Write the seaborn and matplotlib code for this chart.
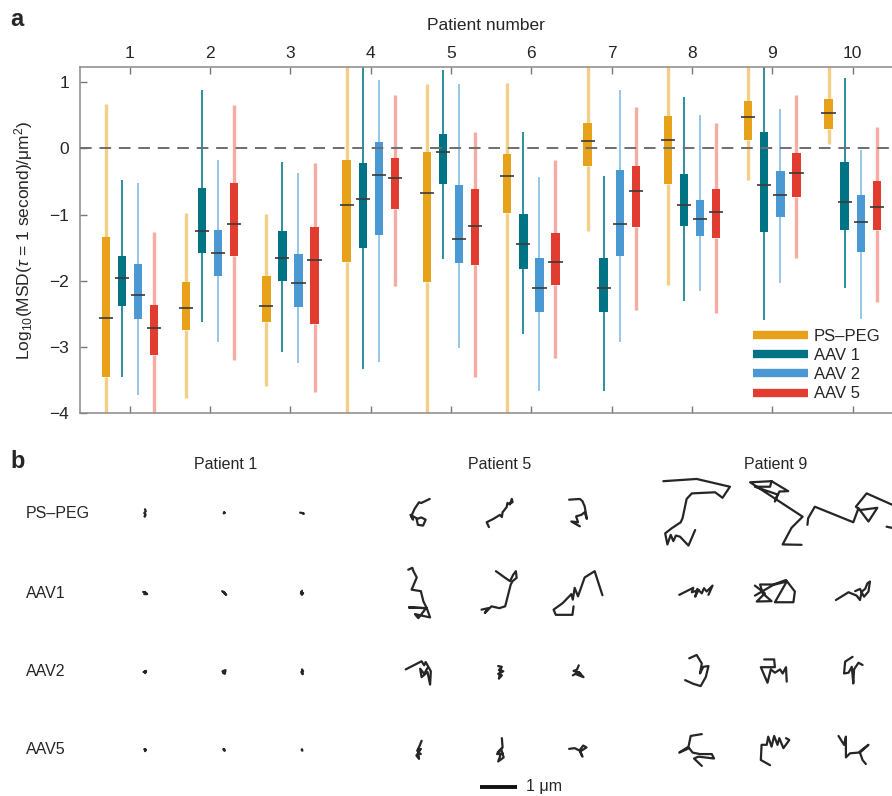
import numpy as np
import pandas as pd
import matplotlib
matplotlib.use("Agg")
import matplotlib.pyplot as plt
import seaborn as sns
from matplotlib.lines import Line2D

# ---------------- data: panel a ----------------
patients = [str(i) for i in range(1, 11)]
particles = ["PS–PEG", "AAV 1", "AAV 2", "AAV 5"]
# five-number summaries per patient: (whisker low, Q1, median, Q3, whisker high) of log10 MSD
ps_peg = [(-4.3, -3.45, -2.57, -1.34, 0.67), (-3.77, -2.75, -2.42, -2.02, -0.97),
          (-3.59, -2.62, -2.38, -1.93, -0.99), (-4.3, -1.72, -0.86, -0.18, 1.5),
          (-4.3, -2.02, -0.68, -0.05, 0.98), (-4.3, -0.97, -0.42, -0.09, 0.99),
          (-1.25, -0.27, 0.11, 0.39, 1.5), (-2.06, -0.54, 0.13, 0.49, 1.5),
          (-0.48, 0.13, 0.47, 0.72, 1.5), (0.07, 0.29, 0.53, 0.74, 1.5)]
aav1 = [(-3.45, -2.39, -1.96, -1.63, -0.48), (-2.63, -1.58, -1.25, -0.60, 0.88),
        (-3.08, -2.00, -1.65, -1.25, -0.21), (-3.34, -1.50, -0.76, -0.22, 1.5),
        (-1.67, -0.54, -0.06, 0.22, 1.18), (-2.81, -1.82, -1.45, -0.99, 0.24),
        (-3.66, -2.48, -2.11, -1.66, -0.42), (-2.30, -1.18, -0.85, -0.38, 0.78),
        (-2.59, -1.27, -0.55, 0.24, 1.5), (-2.11, -1.24, -0.81, -0.21, 1.07)]
aav2 = [(-3.73, -2.58, -2.22, -1.75, -0.53), (-2.93, -1.93, -1.58, -1.23, -0.17),
        (-3.25, -2.40, -2.03, -1.60, -0.37), (-3.23, -1.31, -0.40, 0.10, 1.03),
        (-3.01, -1.74, -1.37, -0.55, 0.98), (-3.66, -2.48, -2.11, -1.66, -0.44),
        (-2.92, -1.63, -1.14, -0.33, 0.88), (-2.15, -1.33, -1.07, -0.78, 0.50),
        (-2.04, -1.04, -0.70, -0.34, 0.60), (-2.58, -1.57, -1.11, -0.70, -0.03)]
aav5 = [(-4.3, -3.13, -2.71, -2.36, -1.27), (-3.20, -1.63, -1.14, -0.53, 0.66),
        (-3.68, -2.66, -1.69, -1.19, -0.22), (-2.08, -0.92, -0.45, -0.14, 0.81),
        (-3.46, -1.77, -1.18, -0.61, 0.25), (-3.17, -2.06, -1.71, -1.28, -0.17),
        (-2.44, -1.19, -0.65, -0.27, 0.63), (-2.49, -1.36, -0.96, -0.61, 0.39),
        (-1.65, -0.74, -0.37, -0.07, 0.81), (-2.32, -1.24, -0.89, -0.50, 0.32)]
y_ticks = [-4, -3, -2, -1, 0, 1]

# ---------------- data: panel b (trajectories, µm, relative to cell centre) ----------------
row_labels = ["PS–PEG", "AAV1", "AAV2", "AAV5"]
panel_patients = ["Patient 1", "Patient 5", "Patient 9"]

p1_pspeg = [[(0.0, 0.10), (0.02, 0.05), (-0.02, 0.0), (0.01, -0.03), (-0.01, -0.10), (0.01, -0.06)],
            [(0.0, 0.02), (0.02, 0.0), (-0.01, -0.01), (0.01, 0.01)],
            [(-0.05, 0.01), (0.0, 0.0), (0.05, -0.02), (0.02, 0.0)]]
p1_aav1 = [[(-0.05, 0.03), (0.03, 0.0), (-0.02, -0.03), (0.06, -0.03), (0.0, 0.02)],
           [(-0.05, 0.05), (0.02, 0.0), (-0.01, 0.03), (0.06, -0.05), (0.02, -0.02)],
           [(0.0, 0.06), (-0.03, -0.01), (0.03, 0.0), (0.0, -0.05), (-0.02, 0.02)]]
p1_aav2 = [[(-0.04, 0.0), (0.03, 0.02), (0.0, -0.03), (0.02, 0.03), (-0.01, 0.01)],
           [(-0.04, 0.02), (0.04, 0.05), (0.02, -0.05), (-0.03, -0.02), (0.03, 0.0)],
           [(0.0, 0.07), (0.03, 0.02), (-0.02, 0.0), (0.02, -0.06), (0.0, 0.02)]]
p1_aav5 = [[(-0.02, 0.02), (0.02, 0.0), (0.0, -0.03), (0.01, 0.02)],
           [(-0.02, 0.02), (0.02, -0.02), (0.0, 0.0), (0.01, 0.02)],
           [(0.0, 0.02), (0.01, -0.02), (-0.01, 0.0)]]

p5_pspeg = [[(0.29, 0.38), (0.06, 0.27), (0.0, 0.29), (-0.12, 0.11), (-0.21, -0.09), (-0.16, -0.18),
             (-0.23, -0.05), (-0.07, -0.14), (-0.03, -0.32), (0.11, -0.34), (0.18, -0.18), (0.06, -0.12),
             (-0.05, -0.16)],
            [(-0.30, -0.38), (-0.36, -0.25), (-0.18, -0.16), (0.0, -0.05), (0.05, -0.11), (0.07, 0.02),
             (0.18, 0.16), (0.20, 0.27), (0.27, 0.23), (0.32, 0.38), (0.34, 0.29), (0.27, 0.27)],
            [(-0.24, 0.36), (0.05, 0.38), (0.12, 0.32), (0.18, 0.18), (0.24, -0.16), (0.18, 0.02),
             (0.09, -0.05), (-0.05, -0.09), (0.0, -0.25), (-0.18, -0.23), (0.05, -0.36)]]
p5_aav1 = [[(-0.29, 0.63), (-0.18, 0.68), (-0.15, 0.59), (-0.06, 0.42), (-0.20, 0.09), (0.05, 0.05),
            (0.12, -0.23), (0.21, -0.41), (-0.27, -0.39), (0.21, -0.41), (0.30, -0.66), (-0.11, -0.57),
            (-0.02, -0.68), (0.16, -0.45)],
           [(-0.11, 0.59), (0.14, 0.41), (0.27, 0.32), (0.36, 0.50), (0.43, 0.59), (0.45, 0.41),
            (0.34, 0.32), (0.29, 0.23), (0.14, -0.36), (-0.02, -0.41), (-0.23, -0.36), (-0.41, -0.54),
            (-0.32, -0.41), (-0.50, -0.45)],
           [(0.66, -0.06), (0.45, 0.59), (0.18, 0.42), (0.0, -0.09), (-0.09, 0.14), (-0.14, -0.18),
            (-0.18, -0.03), (-0.41, -0.27), (-0.66, -0.45), (-0.60, -0.59), (-0.15, -0.59), (-0.12, -0.36)]]
p5_aav2 = [[(-0.36, 0.07), (0.07, 0.29), (0.14, 0.18), (0.18, 0.27), (0.32, 0.02), (0.30, -0.34),
            (0.23, 0.0), (0.07, -0.14), (0.03, 0.09), (0.14, -0.05), (0.23, 0.11)],
           [(-0.05, 0.16), (0.05, 0.14), (-0.03, 0.05), (0.09, 0.02), (-0.05, -0.05), (0.05, -0.09),
            (-0.03, -0.18), (0.03, 0.09)],
           [(0.02, 0.18), (-0.03, 0.06), (-0.12, 0.03), (0.06, -0.03), (-0.05, -0.06), (0.15, -0.14),
            (0.02, 0.0), (-0.14, -0.09)]]
p5_aav5 = [[(0.07, 0.25), (0.02, 0.12), (-0.05, -0.02), (0.05, 0.03), (-0.07, -0.15), (0.0, -0.24),
            (-0.02, -0.06), (0.05, -0.11)],
           [(0.05, 0.32), (0.07, 0.07), (-0.06, -0.06), (0.01, -0.15), (-0.05, -0.31), (0.10, -0.20),
            (0.03, 0.03), (-0.08, -0.11), (0.07, -0.09)],
           [(-0.24, 0.03), (-0.09, 0.05), (0.05, -0.02), (0.12, -0.18), (0.06, -0.04), (0.23, 0.07),
            (0.14, 0.12), (0.05, 0.0)]]

p9_pspeg = [[(-0.91, 0.86), (-0.01, 0.92), (0.89, 0.71), (0.69, 0.41), (0.49, 0.56), (-0.14, 0.53),
             (-0.28, 0.38), (-0.39, -0.14), (-0.44, -0.25), (-0.68, -0.41), (-0.86, -0.55), (-0.80, -0.85),
             (-0.71, -0.59), (-0.64, -0.76), (-0.57, -0.61), (-0.46, -0.64), (-0.23, -0.88), (-0.05, -0.46)],
            [(0.69, -0.86), (0.18, -0.85), (0.42, -0.40), (0.72, -0.10), (-0.70, 0.83), (-0.12, 0.86),
             (0.33, 0.59), (0.09, 0.58), (-0.03, 0.31), (0.04, 0.50), (-0.57, 0.71), (-0.16, 0.71),
             (-0.12, 0.86)],
            [(-1.34, -0.32), (-1.32, -0.14), (-1.14, 0.17), (-0.10, -0.25), (0.04, 0.13), (0.31, -0.23),
             (0.55, 0.14), (0.08, 0.08), (-0.03, 0.17), (0.26, 0.53), (1.07, 0.17), (1.34, -0.14),
             (0.98, -0.41), (0.80, -0.37)]]
p9_aav1 = [[(-0.48, -0.05), (-0.10, 0.14), (-0.14, 0.02), (0.04, 0.08), (-0.05, -0.10), (0.01, 0.11),
            (0.13, -0.01), (0.19, 0.13), (0.26, 0.04), (0.42, 0.20), (0.31, -0.05)],
           [(-0.57, 0.20), (-0.30, -0.01), (-0.52, -0.23), (-0.12, -0.22), (-0.36, -0.01), (-0.43, 0.23),
            (-0.07, 0.23), (0.27, 0.35), (0.51, 0.04), (0.47, -0.25), (-0.03, -0.25), (0.29, 0.31),
            (-0.07, 0.22), (-0.57, -0.07)],
           [(-0.57, -0.19), (-0.23, 0.02), (-0.01, -0.07), (0.08, -0.19), (0.13, 0.04), (0.22, 0.11),
            (0.28, 0.26), (0.35, 0.31), (0.31, 0.04), (0.19, -0.10), (0.08, 0.11), (-0.05, 0.05)]]
p9_aav2 = [[(-0.21, 0.37), (-0.01, 0.46), (0.13, 0.23), (0.08, -0.04), (0.17, 0.14), (0.31, 0.16),
            (0.24, -0.13), (0.10, -0.38), (-0.10, -0.32), (-0.32, -0.22)],
           [(-0.32, 0.34), (-0.05, 0.34), (-0.03, 0.13), (-0.25, 0.13), (-0.41, 0.13), (-0.23, -0.29),
            (-0.14, 0.07), (-0.03, -0.02), (0.11, 0.07), (0.18, -0.04), (0.27, 0.13), (0.29, -0.26)],
           [(-0.12, 0.41), (-0.32, 0.28), (-0.35, -0.04), (-0.23, -0.02), (-0.14, 0.14), (-0.10, -0.31),
            (-0.08, 0.07), (0.04, 0.25), (0.15, 0.19)]]
p9_aav5 = [[(0.13, 0.43), (-0.17, 0.38), (-0.23, 0.09), (-0.48, -0.07), (-0.21, 0.05), (-0.12, -0.07),
            (0.08, -0.11), (0.40, -0.11), (0.46, -0.23), (0.04, -0.18), (-0.08, -0.23), (0.13, -0.43)],
           [(-0.16, -0.41), (-0.41, -0.27), (-0.39, 0.14), (-0.25, 0.14), (-0.21, 0.36), (-0.12, 0.09),
            (-0.05, 0.38), (0.04, 0.14), (0.09, 0.32), (0.20, 0.05), (0.36, 0.27), (0.27, 0.32)],
           [(-0.50, 0.38), (-0.35, 0.14), (-0.30, 0.36), (-0.30, -0.20), (-0.19, -0.09), (0.04, -0.07),
            (0.31, 0.14), (0.08, -0.07), (0.15, -0.27), (0.24, -0.38)]]

trajectory_sets = {
    "Patient 1": [p1_pspeg, p1_aav1, p1_aav2, p1_aav5],
    "Patient 5": [p5_pspeg, p5_aav1, p5_aav2, p5_aav5],
    "Patient 9": [p9_pspeg, p9_aav1, p9_aav2, p9_aav5],
}
scale_bar_um = 1.0

# ---------------- style ----------------
box_colors = ["#E8A21A", "#007484", "#4B99D2", "#E23B30"]
whisker_colors = ["#F5CF85", "#1C8797", "#8EC2E8", "#F6ABA3"]
whisker_widths = [2.4, 1.3, 1.3, 2.4]

sns.set_style("white")
plt.rcParams["font.family"] = ["Liberation Sans", "DejaVu Sans"]
plt.rcParams["mathtext.fontset"] = "custom"
plt.rcParams["mathtext.rm"] = "Liberation Sans"
plt.rcParams["mathtext.it"] = "Liberation Sans:italic"
plt.rcParams["axes.unicode_minus"] = True

W, H = 892, 796
fig = plt.figure(figsize=(W / 100, H / 100), dpi=100)

# ---------------- panel a ----------------
rows = []
for name, summ in zip(particles, [ps_peg, aav1, aav2, aav5]):
    for p, five in zip(patients, summ):
        for v in five:
            rows.append({"patient": p, "particle": name, "msd": v})
df = pd.DataFrame(rows)

ax_left, ax_top, ax_bottom = 80, 67, 413
axa = fig.add_axes([ax_left / W, 1 - ax_bottom / H, 1 - ax_left / W, (ax_bottom - ax_top) / H])
sns.boxplot(data=df, x="patient", y="msd", hue="particle", order=patients, hue_order=particles,
            palette=box_colors, width=0.8, gap=0.48, whis=(0, 100), showfliers=False,
            showcaps=False, saturation=1, linewidth=1.3, legend=False,
            boxprops=dict(linewidth=0), medianprops=dict(color="#3a3a3a", linewidth=1.2),
            ax=axa)

# colour the whiskers per particle and widen the medians
offsets = np.array([-0.3, -0.1, 0.1, 0.3])
for ln in axa.lines:
    xd = np.asarray(ln.get_xdata(), float)
    yd = np.asarray(ln.get_ydata(), float)
    if len(xd) != 2:
        continue
    if np.isclose(xd[0], xd[1]) and not np.isclose(yd[0], yd[1]):
        off = xd[0] - np.round(xd[0])
        k = int(np.argmin(np.abs(offsets - off)))
        ln.set_color(whisker_colors[k])
        ln.set_linewidth(whisker_widths[k])
        ln.set_zorder(1.5)
    elif np.isclose(yd[0], yd[1]):
        c = xd.mean()
        hw = (xd[1] - xd[0]) / 2 * 1.7
        ln.set_xdata([c - hw, c + hw])
        ln.set_zorder(3)

axa.axhline(0, color="#6e6e6e", lw=1.4, ls=(0, (6, 4)), zorder=4)
axa.set_xlim(-0.62, 9.49)
axa.set_ylim(-4, 1.23)
axa.set_yticks(y_ticks)
axa.xaxis.tick_top()
axa.xaxis.set_label_position("top")
axa.tick_params(axis="x", which="both", top=True, bottom=True, labeltop=True, labelbottom=False,
                direction="in", length=5, width=1, color="#777777", labelsize=12.5, pad=4)
axa.tick_params(axis="y", direction="in", length=5, width=1, color="#777777", labelsize=12.5, pad=8,
                left=True)
axa.set_xlabel("Patient number", fontsize=12.5, labelpad=12)
axa.set_ylabel(r"Log$_{10}$(MSD($\tau$ = 1 second)/μm$^2$)", fontsize=12.5, labelpad=10)
for s in ["top", "bottom", "left"]:
    axa.spines[s].set_color("#8a8a8a")
    axa.spines[s].set_linewidth(1.1)
axa.spines["right"].set_visible(False)

handles = [Line2D([0], [0], color=c, lw=6, solid_capstyle="butt") for c in box_colors]
axa.legend(handles, particles, loc="lower right", bbox_to_anchor=(1.0, 0.0), frameon=False,
           fontsize=12, handlelength=3.3, handletextpad=0.35, labelspacing=0.25,
           borderaxespad=0.3)

fig.text(10 / W, 1 - 20 / H, "a", fontsize=17, fontweight="bold", va="center", ha="left")

# ---------------- panel b ----------------
px_per_um = 37.0
top_b = 450
axb = fig.add_axes([0, 0, 1, (H - top_b) / H])
axb.set_xlim(0, W / px_per_um)
axb.set_ylim(0, (H - top_b) / px_per_um)
axb.axis("off")

col_px = {"Patient 1": [145, 224, 302], "Patient 5": [419, 500, 578], "Patient 9": [697, 776, 857]}
header_px = {"Patient 1": 226, "Patient 5": 500, "Patient 9": 776}
row_px = [513, 593, 672, 750]

trows = []
tid = 0
for pat in panel_patients:
    for r, trajs in enumerate(trajectory_sets[pat]):
        for c, tr in enumerate(trajs):
            cx = col_px[pat][c] / px_per_um
            cy = (H - row_px[r]) / px_per_um
            for i, (dx, dy) in enumerate(tr):
                trows.append({"traj": tid, "step": i, "x": cx + dx, "y": cy + dy})
            tid += 1
tdf = pd.DataFrame(trows)
sns.lineplot(data=tdf, x="x", y="y", units="traj", estimator=None, sort=False,
             color="#262626", linewidth=1.6, legend=False, ax=axb)
axb.set_xlabel("")
axb.set_ylabel("")

for pat in panel_patients:
    fig.text(header_px[pat] / W, 1 - 465 / H, pat, fontsize=11.5, ha="center", va="center")
for r, lab in enumerate(row_labels):
    fig.text(26 / W, 1 - row_px[r] / H, lab, fontsize=11.5, ha="left", va="center")

sb_x0 = 480 / px_per_um
sb_y = (H - 787) / px_per_um
axb.plot([sb_x0, sb_x0 + scale_bar_um], [sb_y, sb_y], color="#111111", lw=2.8, solid_capstyle="butt")
fig.text(526 / W, 1 - 786 / H, "1 μm", fontsize=11.5, ha="left", va="center")

fig.text(10 / W, 1 - 462 / H, "b", fontsize=17, fontweight="bold", va="center", ha="left")

fig.savefig("out.png", dpi=100)
